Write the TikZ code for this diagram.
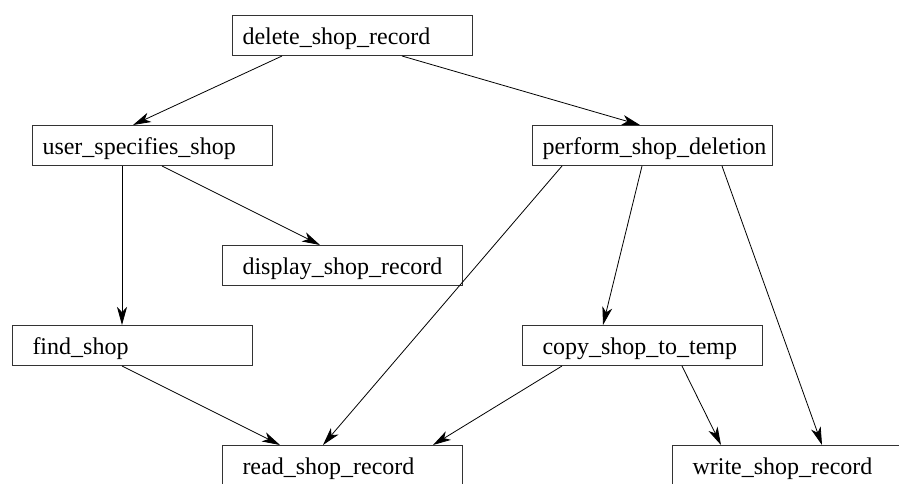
\documentclass[tikz,border=0pt]{standalone}
\usepackage{fontspec}
\setmainfont{Liberation Serif}
\usetikzlibrary{arrows.meta}
\tikzset{
  proc/.style={draw=black!80, line width=1pt, rectangle, anchor=north west,
    minimum height=40pt, inner xsep=10pt, text width=220pt, align=left,
    text height=17pt, text depth=0pt,
    font=\fontsize{24}{28}\selectfont},
  procin/.style={proc, inner xsep=20pt, text width=200pt},
  call/.style={-{Stealth[length=18pt,width=10pt,inset=5pt]}, line width=0.8pt}
}
\begin{document}
\begin{tikzpicture}[x=1pt,y=-1pt]
\useasboundingbox (0,0) rectangle (899,483);
\node[proc] (del) at (232,15) {delete\_shop\_record};
\node[proc] (user) at (32,125) {user\_specifies\_shop};
\node[proc] (perf) at (532,125) {perform\_shop\_deletion};
\node[procin] (disp) at (222,245) {display\_shop\_record};
\node[procin] (find) at (12,325) {find\_shop};
\node[procin] (copy) at (522,325) {copy\_shop\_to\_temp};
\node[procin] (read) at (222,445) {read\_shop\_record};
\node[procin] (write) at (672,445) {write\_shop\_record};
\draw[call] ([xshift=50pt]del.south west) -- ([xshift=101pt]user.north west);
\draw[call] ([xshift=170pt]del.south west) -- ([xshift=108pt]perf.north west);
\draw[call] ([xshift=90pt]user.south west) -- ([xshift=110pt]find.north west);
\draw[call] ([xshift=130pt]user.south west) -- ([xshift=98pt]disp.north west);
\draw[call] ([xshift=30pt]perf.south west) -- ([xshift=101pt]read.north west);
\draw[call] ([xshift=110pt]perf.south west) -- ([xshift=81pt]copy.north west);
\draw[call] ([xshift=190pt]perf.south west) -- ([xshift=150pt]write.north west);
\draw[call] ([xshift=110pt]find.south west) -- ([xshift=58pt]read.north west);
\draw[call] ([xshift=40pt]copy.south west) -- ([xshift=211pt]read.north west);
\draw[call] ([xshift=160pt]copy.south west) -- ([xshift=49pt]write.north west);
\end{tikzpicture}
\end{document}
